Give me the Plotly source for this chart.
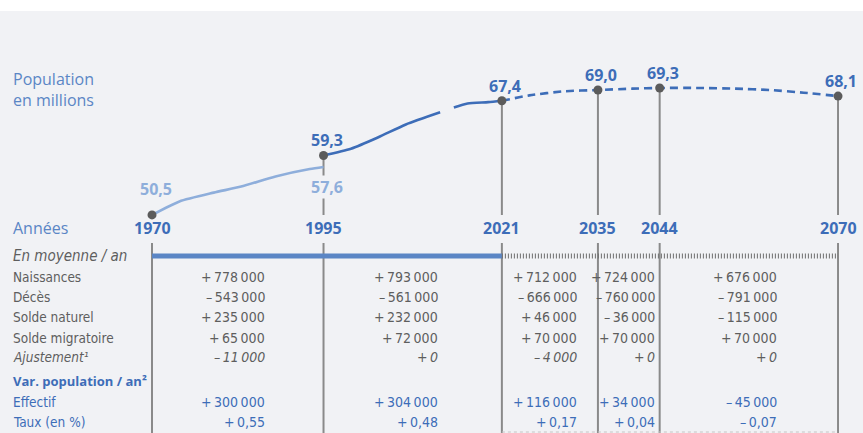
import plotly.graph_objects as go

# ---------------- data ----------------
hist_old_years = [1970, 1974, 1979, 1983, 1988, 1993, 1995]
hist_old_pop = [50.5, 52.5, 53.8, 54.7, 56.2, 57.3, 57.6]

hist_years = [1995, 1999, 2003, 2007, 2012, None, 2014, 2016, 2019, 2021]
hist_pop = [59.3, 60.3, 62.0, 63.9, 65.7, None, 66.4, 67.0, 67.2, 67.4]

proj_years = [2021, 2025, 2030, 2035, 2040, 2044, 2050, 2055, 2060, 2065, 2070]
proj_pop = [67.4, 68.2, 68.8, 69.0, 69.2, 69.3, 69.3, 69.2, 69.0, 68.6, 68.1]

key_years = [1970, 1995, 2021, 2035, 2044, 2070]
key_pop = [50.5, 59.3, 67.4, 69.0, 69.3, 68.1]
key_labels = ["50,5", "59,3", "67,4", "69,0", "69,3", "68,1"]
old_end_label = "57,6"

row_labels = ["En moyenne / an", "Naissances", "Décès", "Solde naturel", "Solde migratoire",
              "Ajustement¹", "Var. population / an²", "Effectif", "Taux (en %)"]
col_1970_1995 = ["+ 778 000", "– 543 000", "+ 235 000", "+ 65 000", "– 11 000", "+ 300 000", "+ 0,55"]
col_1995_2021 = ["+ 793 000", "– 561 000", "+ 232 000", "+ 72 000", "+ 0", "+ 304 000", "+ 0,48"]
col_2021_2035 = ["+ 712 000", "– 666 000", "+ 46 000", "+ 70 000", "– 4 000", "+ 116 000", "+ 0,17"]
col_2035_2044 = ["+ 724 000", "– 760 000", "– 36 000", "+ 70 000", "+ 0", "+ 34 000", "+ 0,04"]
col_2044_2070 = ["+ 676 000", "– 791 000", "– 115 000", "+ 70 000", "+ 0", "– 45 000", "– 0,07"]

# ---------------- layout helpers ----------------
W, H, TOP = 863, 433, 11
XR = [1947.84, 2073.64]
YR = [18.2, 80.7]
S = "\u2009"


def ypaper(ypx):
    return (H - ypx) / (H - TOP)


def xpaper(xpx):
    return xpx / W


def ydata(ypx):
    return YR[1] - (ypx - TOP) / (H - TOP) * (YR[1] - YR[0])


DARK = "#3d6db8"
LIGHT = "#8eaedb"
MID = "#5b86c5"
GREY_T = "#5e5e5e"
DOT = "#5b5b5b"
VLINE = "#8a8a8a"
BG = "#f1f2f5"
F_MAIN = "Open Sans, Noto Sans, sans-serif"
F_TAB = "Liberation Sans Narrow, DejaVu Sans Condensed, Roboto, sans-serif"

fig = go.Figure()

# vertical reference lines
shapes = []
for yr, val in zip(key_years, key_pop):
    if yr != 1970:
        shapes.append(dict(type="line", xref="x", yref="y", x0=yr, x1=yr, y0=val, y1=ydata(215),
                           line=dict(color=VLINE, width=2), layer="below"))
    shapes.append(dict(type="line", xref="x", yref="y", x0=yr, x1=yr, y0=ydata(243), y1=YR[0],
                       line=dict(color=VLINE, width=2), layer="below"))
# "En moyenne" band
shapes.append(dict(type="line", xref="x", yref="y", x0=key_years[0], x1=key_years[2],
                   y0=ydata(256), y1=ydata(256), line=dict(color=MID, width=5)))
shapes.append(dict(type="line", xref="x", yref="y", x0=key_years[2], x1=key_years[-1],
                   y0=ydata(256), y1=ydata(256), line=dict(color="#6e6e6e", width=5, dash="1px,2px")))
shapes.append(dict(type="line", xref="x", yref="y", x0=key_years[2], x1=key_years[-1],
                   y0=ydata(432), y1=ydata(432), line=dict(color="#c4c4c4", width=1, dash="dot")))

fig.add_trace(go.Scatter(x=hist_old_years, y=hist_old_pop, mode="lines",
                         line=dict(color=LIGHT, width=2.6, shape="spline", smoothing=0.6),
                         hoverinfo="skip"))
fig.add_trace(go.Scatter(x=hist_years, y=hist_pop, mode="lines",
                         line=dict(color=DARK, width=2.6, shape="spline", smoothing=0.6),
                         hoverinfo="skip"))
fig.add_trace(go.Scatter(x=proj_years, y=proj_pop, mode="lines",
                         line=dict(color=DARK, width=2.6, dash="8px,5px", shape="spline", smoothing=0.6),
                         hoverinfo="skip"))
fig.add_trace(go.Scatter(x=key_years, y=key_pop, mode="markers",
                         marker=dict(color=DOT, size=9), hoverinfo="skip"))

ann = []
# value labels
for i, (yr, val, lab) in enumerate(zip(key_years, key_pop, key_labels)):
    if i == 0:
        ann.append(dict(x=yr, y=val, xref="x", yref="y", text=f"<b>{lab}</b>", showarrow=False,
                        xanchor="center", yanchor="bottom", xshift=4, yshift=13,
                        font=dict(family=F_MAIN, size=16, color=LIGHT)))
    else:
        ann.append(dict(x=yr, y=val, xref="x", yref="y", text=f"<b>{lab}</b>", showarrow=False,
                        xanchor="center", yanchor="bottom", xshift=3, yshift=2,
                        font=dict(family=F_MAIN, size=16, color=DARK)))
ann.append(dict(x=hist_old_years[-1], y=hist_old_pop[-1], xref="x", yref="y",
                text=f"<b>{old_end_label}</b>", showarrow=False, xanchor="center", yanchor="top",
                xshift=3, yshift=-8, bgcolor=BG, borderpad=0,
                font=dict(family=F_MAIN, size=16, color=LIGHT)))
# year labels
for yr in key_years:
    ann.append(dict(x=yr, y=ypaper(228), xref="x", yref="paper", text=f"<b>{yr}</b>",
                    showarrow=False, xanchor="center", yanchor="middle",
                    font=dict(family=F_MAIN, size=16, color=DARK)))
ann.append(dict(x=xpaper(11), y=ypaper(228), xref="paper", yref="paper", text="Années",
                showarrow=False, xanchor="left", yanchor="middle",
                font=dict(family=F_MAIN, size=16, color=MID)))
ann.append(dict(x=xpaper(11), y=ypaper(89), xref="paper", yref="paper",
                text="Population<br>en millions", showarrow=False, xanchor="left", yanchor="middle",
                align="left", font=dict(family=F_MAIN, size=16, color=MID)))

# table
row_y = [256, 277, 297, 317, 338, 357, 381, 402, 422]
for i, (lab, y) in enumerate(zip(row_labels, row_y)):
    fam, size = F_TAB, 13.5
    if i == 0:
        txt, col, size = f"<i>{lab}</i>", GREY_T, 15
    elif i == 5:
        txt, col = f"<i>{lab}</i>", GREY_T
    elif i == 6:
        txt, col, fam, size = f"<b>{lab}</b>", DARK, F_MAIN, 13
    elif i >= 7:
        txt, col = lab, DARK
    else:
        txt, col = lab, GREY_T
    ann.append(dict(x=xpaper(11), y=ypaper(y), xref="paper", yref="paper", text=txt,
                    showarrow=False, xanchor="left", yanchor="middle",
                    font=dict(family=fam, size=size, color=col)))

cols = [col_1970_1995, col_1995_2021, col_2021_2035, col_2035_2044, col_2044_2070]
col_right = [267, 440, 579, 657, 779]
val_rows = [277, 297, 317, 338, 357, 402, 422]
for col, xr in zip(cols, col_right):
    for j, (v, y) in enumerate(zip(col, val_rows)):
        v = v.replace(" ", S)
        txt = f"<i>{v}</i>" if j == 4 else v
        c = DARK if j >= 5 else GREY_T
        ann.append(dict(x=xpaper(xr), y=ypaper(y), xref="paper", yref="paper", text=txt,
                        showarrow=False, xanchor="right", yanchor="middle",
                        font=dict(family=F_TAB, size=14, color=c)))

fig.update_layout(
    width=W, height=H,
    margin=dict(l=0, r=0, t=TOP, b=0),
    paper_bgcolor="white", plot_bgcolor=BG,
    showlegend=False,
    xaxis=dict(range=XR, visible=False, fixedrange=True),
    yaxis=dict(range=YR, visible=False, fixedrange=True),
    shapes=shapes, annotations=ann,
)

fig.write_html("out.html", config={"displayModeBar": False, "staticPlot": True},
               post_script="document.body.style.margin='0px';document.body.style.overflow='hidden';")
